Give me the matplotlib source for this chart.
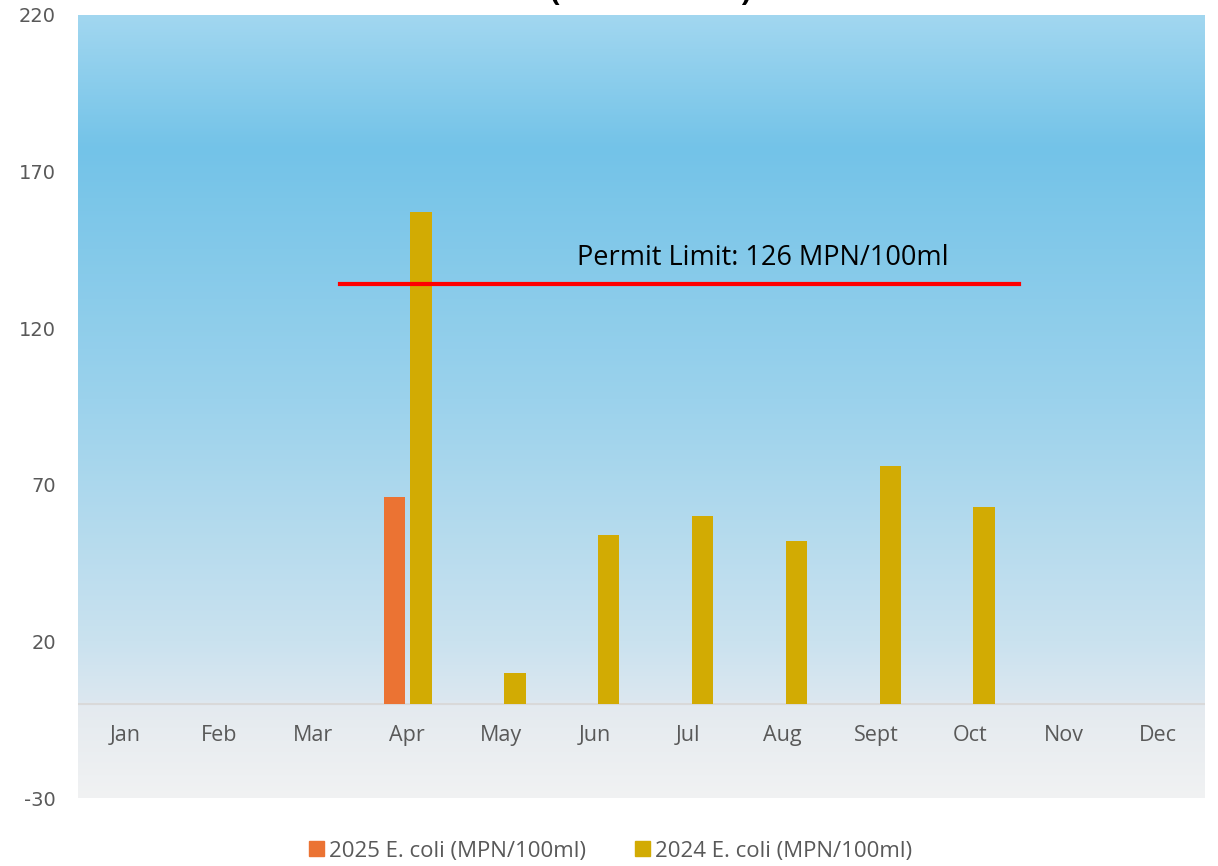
import numpy as np
import matplotlib.pyplot as plt
from matplotlib.colors import LinearSegmentedColormap
from matplotlib.patches import Patch

plt.rcParams["axes.unicode_minus"] = False

#---------------------------------------------------------------------#
months = ["Jan", "Feb", "Mar", "Apr", "May", "Jun",
          "Jul", "Aug", "Sept", "Oct", "Nov", "Dec"]
ecoli_2025 = [0, 0, 0, 66, 0, 0, 0, 0, 0, 0, 0, 0]
ecoli_2024 = [0, 0, 0, 157, 10, 54, 60, 52, 76, 63, 0, 0]
yticks = [-30, 20, 70, 120, 170, 220]
permit_label = "Permit Limit: 126 MPN/100ml"
permit_line_level = 134      # where the drawn line sits in the picture
permit_line_span = (2.29, 9.52)
#---------------------------------------------------------------------#

fig = plt.figure(figsize=(12.18, 8.66), dpi=100)
ax = fig.add_axes([78/1218, 68/866, 1127/1218, 783/866])

x = np.arange(len(months))
ymin, ymax = -30, 220
ax.set_xlim(-0.5, 11.5)
ax.set_ylim(ymin, ymax)

# fond en degrade (bleu en haut, gris clair en bas)
stops = [(0.0, "#f1f2f3"), (0.118, "#e4eaef"), (0.125, "#dbe7f0"),
         (0.20, "#cae2ef"), (0.51, "#9bd2ec"), (0.83, "#73c3e8"),
         (1.0, "#a2d7f0")]
cmap = LinearSegmentedColormap.from_list("bg", stops, N=1024)
grad = np.linspace(0, 1, 1024).reshape(-1, 1)
ax.imshow(grad, cmap=cmap, aspect="auto", origin="lower",
          extent=[-0.5, 11.5, ymin, ymax], zorder=0, interpolation="bilinear")

w = 0.23
ax.bar(x - 0.13, ecoli_2025, width=w, color="#eb7333", zorder=2)
ax.bar(x + 0.15, ecoli_2024, width=w, color="#d2ab03", zorder=2)

ax.axhline(0, color="#d9d9d9", lw=1.5, zorder=1.5)

# ligne de limite
ax.plot(permit_line_span, [permit_line_level] * 2, color="#ff0000", lw=3, zorder=3)
ax.text(6.79, permit_line_level + 8.5, permit_label, ha="center", va="center",
        fontsize=19.5, family="Open Sans", color="black", zorder=4)

# etiquettes des mois sous la ligne zero
for i, m in enumerate(months):
    ax.annotate(m, (i, 0), xytext=(0, -23), textcoords="offset points",
                ha="center", va="center", fontsize=15.5, family="Open Sans",
                color="#595959")

ax.set_xticks([])
ax.set_yticks(yticks)
ax.tick_params(axis="y", length=0, pad=16, labelsize=14, labelcolor="#595959")
for s in ax.spines.values():
    s.set_visible(False)

# titre coupe en haut de l'image
fig.text(550/1218, 1.0, "(", ha="left", va="baseline", fontsize=22,
         family="Open Sans", fontweight="bold")
fig.text(740/1218, 1.0, ")", ha="left", va="baseline", fontsize=22,
         family="Open Sans", fontweight="bold")

handles = [Patch(color="#eb7333", label="2025 E. coli (MPN/100ml)"),
           Patch(color="#d2ab03", label="2024 E. coli (MPN/100ml)")]
leg = fig.legend(handles=handles, loc="center", bbox_to_anchor=(611/1218, 1 - 851/866),
                 ncol=2, frameon=False, handlelength=0.65, handleheight=0.65,
                 handletextpad=0.25, columnspacing=2.2,
                 prop={"family": "Open Sans", "size": 16})
for t in leg.get_texts():
    t.set_color("#595959")

fig.savefig("out.png", dpi=100)
